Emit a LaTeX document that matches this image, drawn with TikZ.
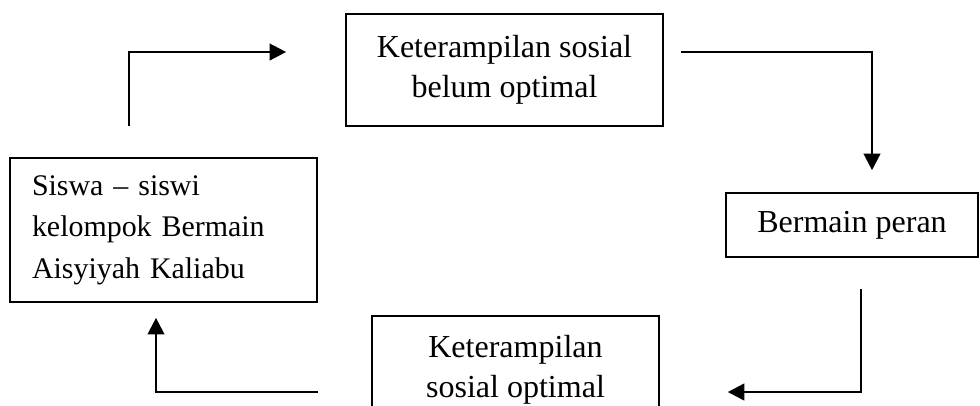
\documentclass[tikz,border=0pt]{standalone}
\usepackage{fontspec}
\setmainfont{Liberation Serif}
\usepackage{tikz}
\usetikzlibrary{arrows.meta}

\begin{document}
\begin{tikzpicture}[x=0.381pt,y=-0.381pt]
        \begin{scope}[
            >={Triangle[length=6.3pt,width=6.3pt]},
            every node/.style={draw,line width=0.6pt,inner sep=0pt,
                font=\fontsize{12.2pt}{15.3pt}\selectfont},
            flow/.style={->,line width=0.9pt}
            ]
            \clip (0,0) rectangle (980,405);
            \node[minimum width=120.8pt,minimum height=42.7pt,align=center]
                (belum) at (504.5,70) {Keterampilan sosial\\belum optimal};
            \node[text width=100.2pt,inner xsep=8.4pt,minimum height=54.9pt,
                align=left,font=\fontsize{11.4pt}{15.8pt}\selectfont]
                (siswa) at (163.5,230) {Siswa -- siswi\\kelompok Bermain\\Aisyiyah Kaliabu};
            \node[minimum width=96pt,minimum height=24.4pt]
                (peran) at (852,225) {Bermain peran};
            \node[minimum width=109.3pt,minimum height=41.1pt,align=center]
                (optimal) at (515.5,370) {Keterampilan\\sosial optimal};
            \draw[flow] ([shift={(-34.5,-31)}]siswa.north) |- ([shift={(-59,-18)}]belum.west);
            \draw[flow] ([shift={(17,-18)}]belum.east) -| ([shift={(20,-22)}]peran.north);
            \draw[flow] ([shift={(9,31)}]peran.south) |- ([shift={(68,22)}]optimal.east);
            \draw[flow] ([shift={(-53,22)}]optimal.west) -| ([shift={(-7.5,15)}]siswa.south);
        \end{scope}
    \end{tikzpicture}
\end{document}
